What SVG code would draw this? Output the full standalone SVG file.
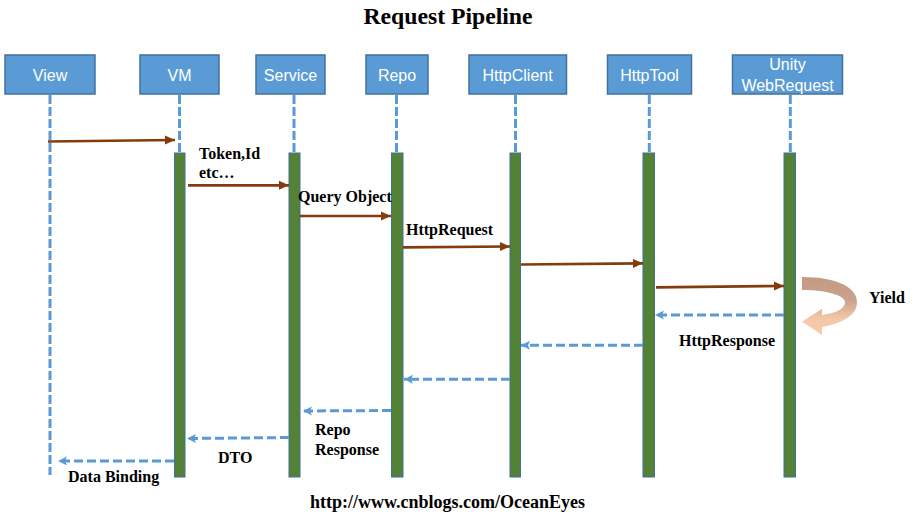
<svg xmlns="http://www.w3.org/2000/svg" width="918" height="520" viewBox="0 0 918 520">
<style>
.box{fill:#5b9bd5;stroke:#41719c;stroke-width:1.5}
.bl{font-family:"Liberation Sans",Arial,sans-serif;font-size:16px;fill:#ffffff;text-anchor:middle}
.life{stroke:#5b9bd5;stroke-width:3;stroke-dasharray:9 3;fill:none}
.bar{fill:#538135;stroke:#41719c;stroke-width:1}
.req{stroke:#843c0c;stroke-width:2.7;fill:none;marker-end:url(#ah)}
.res{stroke:#5b9bd5;stroke-width:3;stroke-dasharray:9 4;fill:none;marker-end:url(#bh)}
.lbl{font-family:"Liberation Serif","Times New Roman",serif;font-weight:bold;font-size:16px;fill:#000000}
.url{font-family:"Liberation Serif","Times New Roman",serif;font-weight:bold;font-size:18px;fill:#000000;text-anchor:middle}
</style>
<defs>
<marker id="ah" markerUnits="userSpaceOnUse" markerWidth="10" markerHeight="9" refX="10" refY="4.5" orient="auto" overflow="visible">
<path d="M0,0 L10,4.5 L0,9 Z" fill="#843c0c"/>
</marker>
<marker id="bh" markerUnits="userSpaceOnUse" markerWidth="10" markerHeight="9" refX="9" refY="4.5" orient="auto" overflow="visible">
<path d="M0,0 L9,4.5 L0,9 L2,4.5 Z" fill="#5b9bd5"/>
</marker>
<linearGradient id="yg" gradientUnits="userSpaceOnUse" x1="0" y1="277" x2="0" y2="335">
<stop offset="0" stop-color="#c39a82"/>
<stop offset="0.4" stop-color="#caa38c"/>
<stop offset="0.72" stop-color="#f4c7a9"/>
<stop offset="1" stop-color="#f8cbad"/>
</linearGradient>
</defs>
<rect width="918" height="520" fill="#ffffff"/>
<text x="448" y="24" font-family="Liberation Serif,'Times New Roman',serif" font-weight="bold" font-size="23.7" text-anchor="middle">Request Pipeline</text>

<g id="view">
<rect class="box" x="5" y="55" width="90" height="39"/>
<text class="bl" x="50" y="81">View</text>
<line class="life" x1="50" y1="95" x2="50" y2="475"/>
</g>
<g id="vm">
<rect class="box" x="140" y="55" width="79" height="39"/>
<text class="bl" x="179.5" y="81">VM</text>
<line class="life" x1="179.5" y1="95" x2="179.5" y2="153"/>
<rect class="bar" x="174.5" y="153" width="10.5" height="324"/>
</g>
<g id="service">
<rect class="box" x="256" y="55" width="69" height="39"/>
<text class="bl" x="290.5" y="81">Service</text>
<line class="life" x1="294" y1="95" x2="294" y2="153"/>
<rect class="bar" x="289" y="153" width="11" height="324"/>
</g>
<g id="repo">
<rect class="box" x="366" y="55" width="62" height="39"/>
<text class="bl" x="397" y="81">Repo</text>
<line class="life" x1="396.5" y1="95" x2="396.5" y2="153"/>
<rect class="bar" x="391.5" y="153" width="11.5" height="324"/>
</g>
<g id="httpclient">
<rect class="box" x="469" y="55" width="97.5" height="39"/>
<text class="bl" x="517.5" y="81">HttpClient</text>
<line class="life" x1="515.5" y1="95" x2="515.5" y2="153"/>
<rect class="bar" x="510" y="153" width="10.5" height="324"/>
</g>
<g id="httptool">
<rect class="box" x="607.5" y="55" width="84" height="39"/>
<text class="bl" x="649.5" y="81">HttpTool</text>
<line class="life" x1="649.3" y1="95" x2="649.3" y2="153"/>
<rect class="bar" x="643" y="153" width="11.5" height="324"/>
</g>
<g id="unity">
<rect class="box" x="732.5" y="55" width="110" height="39"/>
<text class="bl" x="787.5" y="70">Unity</text>
<text class="bl" x="787.5" y="91">WebRequest</text>
<line class="life" x1="790.3" y1="95" x2="790.3" y2="153"/>
<rect class="bar" x="784" y="153" width="11.5" height="324"/>
</g>

<g id="connectors">
<path class="req" d="M48,141.5 L175,140"/>
<path class="req" d="M188,185.3 L289,185.3"/>
<path class="req" d="M300,216 L391,216"/>
<path class="req" d="M403,247.3 L510,246.5"/>
<path class="req" d="M521,264.5 L643,263.3"/>
<path class="req" d="M656,287.3 L784,286"/>
<path class="res" d="M784,315 L655,315"/>
<path class="res" d="M643,345.3 L521,345.3"/>
<path class="res" d="M510,379.3 L404,379.3"/>
<path class="res" d="M391,410.5 L303,411"/>
<path class="res" d="M289,437.5 L187,438.5"/>
<path class="res" d="M174,461 L58,461"/>
<path id="yield" d="M802,277 C838,277 857,288 857,302 C857,314 845,323 822,327 L822,335 L802,321.5 L822,309 L822,315 C838,313 845,308 845,302 C845,296 828,290 802,290 Z" fill="url(#yg)"/>
</g>

<g id="labels">
<text class="lbl" x="199" y="159">Token,Id</text>
<text class="lbl" x="199" y="178">etc…</text>
<text class="lbl" x="298" y="202">Query Object</text>
<text class="lbl" x="406" y="235">HttpRequest</text>
<text class="lbl" x="869" y="303">Yield</text>
<text class="lbl" x="679" y="346">HttpResponse</text>
<text class="lbl" x="315" y="435">Repo</text>
<text class="lbl" x="315" y="455">Response</text>
<text class="lbl" x="218" y="463">DTO</text>
<text class="lbl" x="68" y="482">Data Binding</text>
<text class="url" x="447.5" y="508">http://www.cnblogs.com/OceanEyes</text>
</g>
</svg>
